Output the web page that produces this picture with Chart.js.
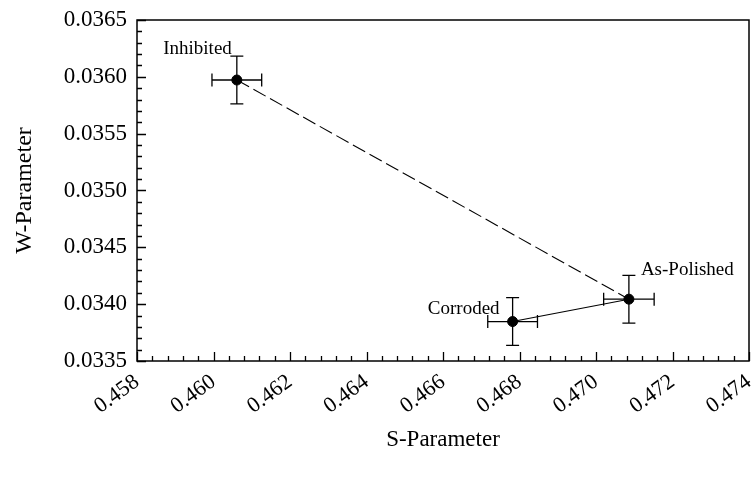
<!DOCTYPE html>
<html>
<head>
<meta charset="utf-8">
<script src="https://cdn.jsdelivr.net/npm/chart.js@4/dist/chart.umd.min.js"></script>
<style>
  html, body { margin: 0; padding: 0; background: #fff; }
  #wrap { width: 755px; height: 480px; }
</style>
</head>
<body>
<div id="wrap"><canvas id="chart"></canvas></div>
<script>
// Values
const sampleNames = ['Inhibited', 'As-Polished', 'Corroded'];
const sValues = [0.46061, 0.47086, 0.46782];
const wValues = [0.035972, 0.034044, 0.033847];
const sErrors = [0.00065, 0.00066, 0.00065];
const wErrors = [0.00021, 0.00021, 0.00021];

// samples joined by a dashed / solid line
const dashedPair = [0, 1];
const solidPair = [2, 1];

// axis ticks
const xTickValues = [0.458, 0.460, 0.462, 0.464, 0.466, 0.468, 0.470, 0.472, 0.474];
const xTickLabels = ['0.458', '0.460', '0.462', '0.464', '0.466', '0.468', '0.470', '0.472', '0.474'];
const yTickValues = [0.0335, 0.0340, 0.0345, 0.0350, 0.0355, 0.0360, 0.0365];
const yTickLabels = ['0.0335', '0.0340', '0.0345', '0.0350', '0.0355', '0.0360', '0.0365'];

const FONT = "'Liberation Serif', 'Times New Roman', serif";

function pairPoints(pair) {
    return pair.map(i => ({ x: sValues[i], y: wValues[i] }));
}

// label placement next to each point (pixels)
const labelPlace = {
    'Inhibited': { dx: -5, dy: -26, align: 'right' },
    'As-Polished': { dx: 12, dy: -24, align: 'left' },
    'Corroded': { dx: -13, dy: -8, align: 'right' }
};

/**
 * Error bars, inward minor ticks, frame and point labels
 */
const decorPlugin = {
    id: 'decor',
    beforeDatasetsDraw(chart) {
        const ctx = chart.ctx;
        const xs = chart.scales.x, ys = chart.scales.y;
        const cap = 6.5;
        ctx.save();
        ctx.strokeStyle = '#000';
        ctx.lineWidth = 1.3;
        for (let i = 0; i < sValues.length; i++) {
            const px = xs.getPixelForValue(sValues[i]);
            const py = ys.getPixelForValue(wValues[i]);
            const x1 = xs.getPixelForValue(sValues[i] - sErrors[i]);
            const x2 = xs.getPixelForValue(sValues[i] + sErrors[i]);
            const y1 = ys.getPixelForValue(wValues[i] + wErrors[i]);
            const y2 = ys.getPixelForValue(wValues[i] - wErrors[i]);
            ctx.beginPath();
            ctx.moveTo(x1, py); ctx.lineTo(x2, py);
            ctx.moveTo(x1, py - cap); ctx.lineTo(x1, py + cap);
            ctx.moveTo(x2, py - cap); ctx.lineTo(x2, py + cap);
            ctx.moveTo(px, y1); ctx.lineTo(px, y2);
            ctx.moveTo(px - cap, y1); ctx.lineTo(px + cap, y1);
            ctx.moveTo(px - cap, y2); ctx.lineTo(px + cap, y2);
            ctx.stroke();
        }
        ctx.restore();
    },
    afterDraw(chart) {
        const ctx = chart.ctx;
        const area = chart.chartArea;
        const xs = chart.scales.x, ys = chart.scales.y;
        ctx.save();
        ctx.strokeStyle = '#000';
        ctx.lineWidth = 1.3;

        // minor ticks, 5 per major step, pointing inward
        const xStep = (xTickValues[1] - xTickValues[0]) / 5;
        const nx = Math.round((xTickValues[xTickValues.length - 1] - xTickValues[0]) / xStep);
        ctx.beginPath();
        for (let i = 0; i <= nx; i++) {
            const px = Math.round(xs.getPixelForValue(xTickValues[0] + i * xStep)) + 0.5;
            const len = i % 5 === 0 ? 9 : 5;
            ctx.moveTo(px, area.bottom);
            ctx.lineTo(px, area.bottom - len);
        }
        const yStep = (yTickValues[1] - yTickValues[0]) / 5;
        const ny = Math.round((yTickValues[yTickValues.length - 1] - yTickValues[0]) / yStep);
        for (let i = 0; i <= ny; i++) {
            const py = Math.round(ys.getPixelForValue(yTickValues[0] + i * yStep)) + 0.5;
            const len = i % 5 === 0 ? 9 : 5;
            ctx.moveTo(area.left, py);
            ctx.lineTo(area.left + len, py);
        }
        ctx.stroke();

        // frame
        ctx.lineWidth = 1.5;
        ctx.strokeRect(area.left, area.top, area.right - area.left, area.bottom - area.top);

        // point labels
        ctx.fillStyle = '#000';
        ctx.font = '19px ' + FONT;
        ctx.textBaseline = 'alphabetic';
        sampleNames.forEach((name, i) => {
            const place = labelPlace[name];
            ctx.textAlign = place.align;
            ctx.fillText(name,
                xs.getPixelForValue(sValues[i]) + place.dx,
                ys.getPixelForValue(wValues[i]) + place.dy);
        });
        ctx.restore();
    }
};

new Chart(document.getElementById('chart'), {
    type: 'scatter',
    data: {
        datasets: [
            {
                data: pairPoints(dashedPair),
                showLine: true,
                borderColor: '#000',
                borderWidth: 1.1,
                borderDash: [14, 5],
                pointRadius: 0
            },
            {
                data: pairPoints(solidPair),
                showLine: true,
                borderColor: '#000',
                borderWidth: 1.1,
                pointRadius: 0
            },
            {
                data: sValues.map((s, i) => ({ x: s, y: wValues[i] })),
                backgroundColor: '#000',
                borderColor: '#000',
                pointRadius: 5,
                pointHoverRadius: 5
            }
        ]
    },
    options: {
        responsive: true,
        maintainAspectRatio: false,
        animation: false,
        events: [],
        layout: { padding: { top: 20, right: 6, left: 0, bottom: 0 } },
        plugins: {
            legend: { display: false },
            tooltip: { enabled: false }
        },
        scales: {
            x: {
                type: 'linear',
                min: xTickValues[0],
                max: xTickValues[xTickValues.length - 1],
                afterBuildTicks(scale) {
                    scale.ticks = xTickValues.map(v => ({ value: v }));
                },
                afterFit(scale) {
                    scale.height = 119;
                    scale.paddingLeft = 0;
                    scale.paddingRight = 0;
                },
                grid: { display: false, drawTicks: false },
                border: { display: false },
                ticks: {
                    autoSkip: false,
                    minRotation: 36,
                    maxRotation: 36,
                    padding: 8,
                    color: '#000',
                    font: { family: FONT, size: 22 },
                    callback: (v, i) => xTickLabels[i]
                },
                title: {
                    display: true,
                    text: 'S-Parameter',
                    color: '#000',
                    font: { family: FONT, size: 23 },
                    padding: { top: 4, bottom: 26 }
                }
            },
            y: {
                type: 'linear',
                min: yTickValues[0],
                max: yTickValues[yTickValues.length - 1],
                afterBuildTicks(scale) {
                    scale.ticks = yTickValues.map(v => ({ value: v }));
                },
                afterFit(scale) {
                    scale.width = 137;
                    scale.paddingTop = 0;
                    scale.paddingBottom = 0;
                },
                grid: { display: false, drawTicks: false },
                border: { display: false },
                ticks: {
                    padding: 10,
                    color: '#000',
                    font: { family: FONT, size: 23 },
                    callback: (v, i) => yTickLabels[i]
                },
                title: {
                    display: true,
                    text: 'W-Parameter',
                    color: '#000',
                    font: { family: FONT, size: 24 },
                    padding: { top: 10, bottom: 0 }
                }
            }
        }
    },
    plugins: [decorPlugin]
});
</script>
</body>
</html>
